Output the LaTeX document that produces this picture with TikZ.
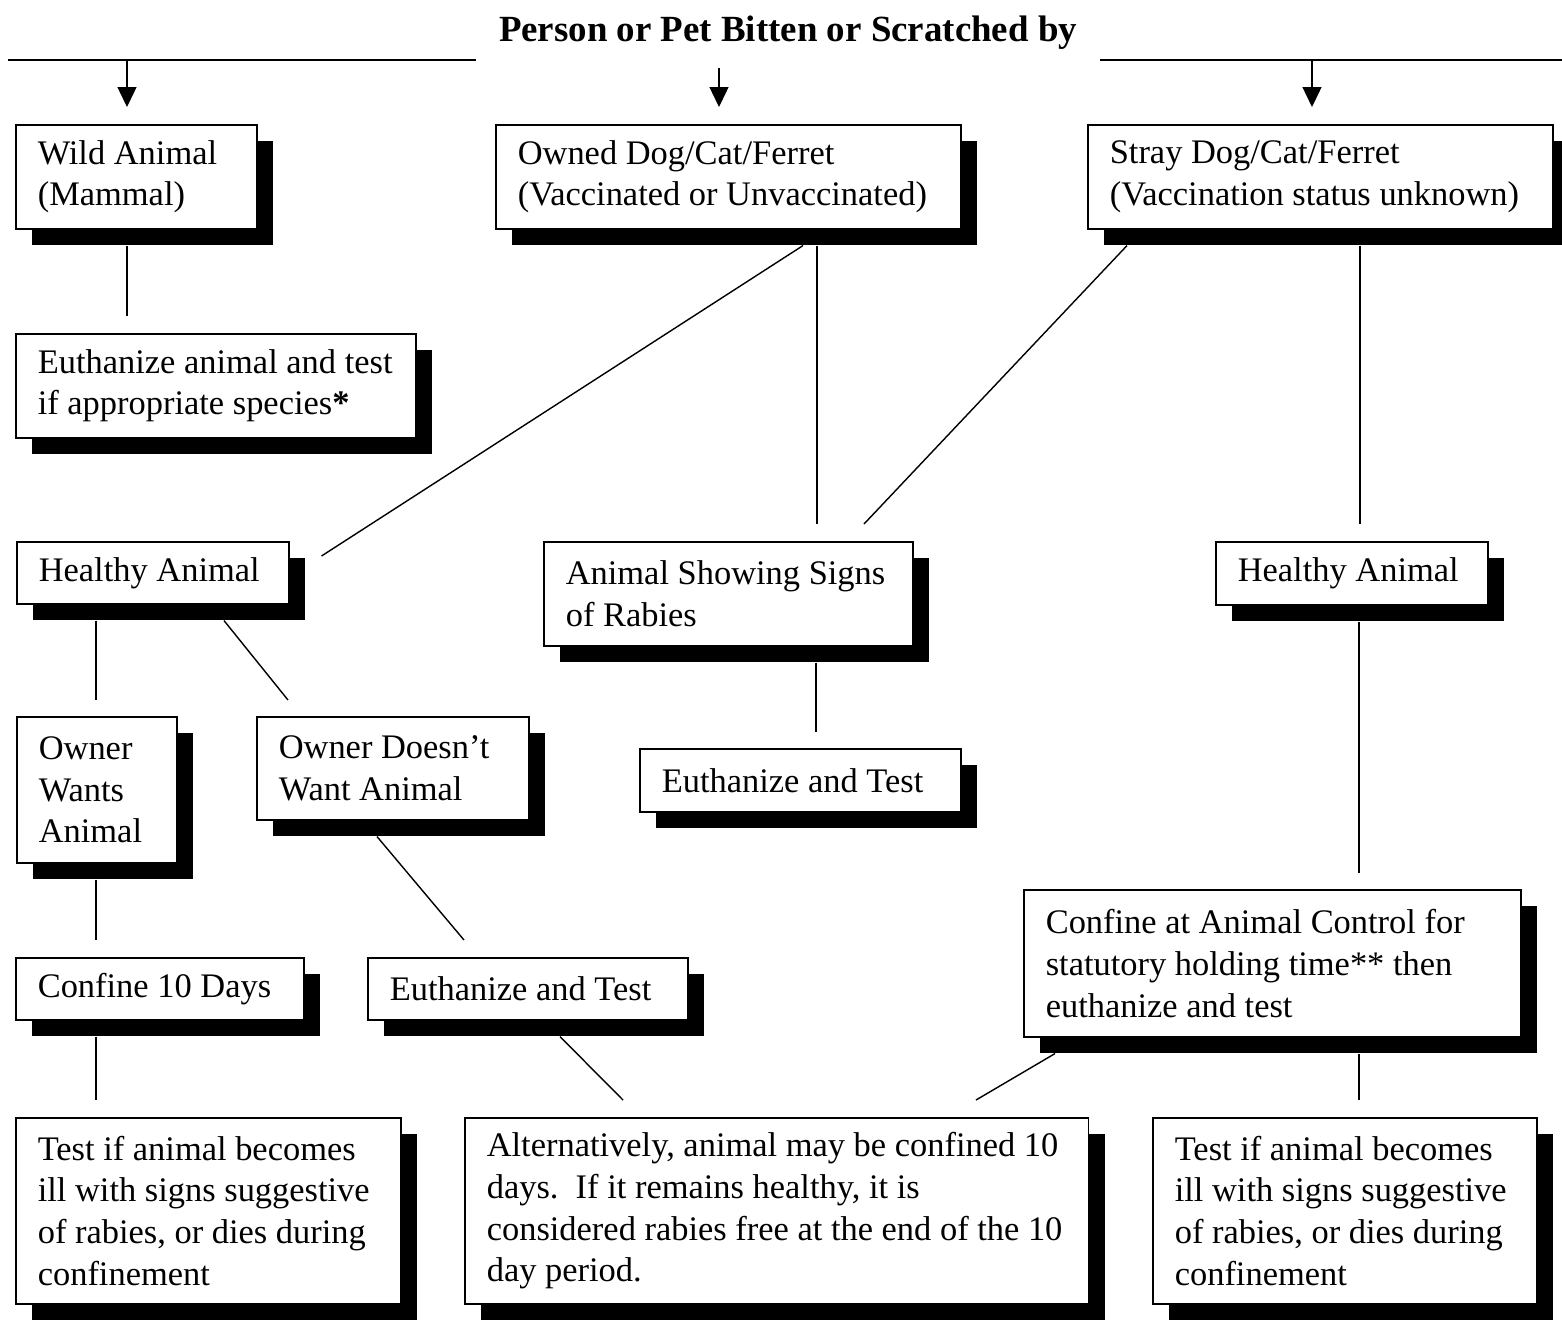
\documentclass[tikz,border=0pt]{standalone}
\usepackage{fontspec}
\setmainfont{Liberation Serif}
\usetikzlibrary{arrows.meta, calc, shadows}

\begin{document}
\begin{tikzpicture}[x=0.02cm, y=-0.02cm,
  flowbox/.style={draw, line width=0.9pt, fill=white, anchor=north west, align=flush left,
    inner xsep=0.44cm, inner ysep=0pt, font=\fontsize{19.6}{23.8}\selectfont,
    drop shadow={shadow xshift=0.32cm, shadow yshift=-0.32cm, fill=black, opacity=1}},
  link/.style={line width=0.8pt},
  arr/.style={line width=0.8pt, -{Triangle[length=0.4cm, width=0.38cm]}}]
  \useasboundingbox (0,0) rectangle (1562,1319);

  % Heading and top bar
  \node[font=\fontsize{21}{25}\selectfont\bfseries, anchor=base] (title) at (788,41) {Person or Pet Bitten or Scratched by};
  \coordinate (barL) at (8,60);
  \coordinate (barLend) at (476,60);
  \coordinate (barR) at (1100,60);
  \coordinate (barRend) at (1562,60);
  \draw[link] (barL) -- (barLend);
  \draw[link] (barR) -- (barRend);

  % First row
  \node[flowbox, text width=3.94cm, minimum height=2.08cm] (wild) at (15,124) {Wild Animal\\(Mammal)};
  \node[flowbox, text width=8.42cm, minimum height=2.08cm] (owned) at (495,124) {Owned Dog/Cat/Ferret\\(Vaccinated or~Unvaccinated)};
  \node[flowbox, text width=8.42cm, minimum height=2.08cm] (stray) at (1087,124) {Stray Dog/Cat/Ferret\\(Vaccination status~unknown)};

  % Wild animal branch
  \node[flowbox, text width=7.12cm, minimum height=2.08cm] (euthA) at (15,333) {Euthanize animal and~test\\if appropriate species\textbf{*}};

  % Second row
  \node[flowbox, text width=4.56cm, minimum height=1.24cm] (healthyL) at (16,541) {Healthy Animal};
  \node[flowbox, text width=6.50cm, minimum height=2.08cm] (signs) at (543,541) {Animal Showing~Signs\\of Rabies};
  \node[flowbox, text width=4.56cm, minimum height=1.26cm] (healthyR) at (1215,541) {Healthy Animal};

  % Third row
  \node[flowbox, text width=2.32cm, minimum height=2.92cm] (ownWants) at (16,716) {Owner\\Wants\\Animal};
  \node[flowbox, text width=4.56cm, minimum height=2.06cm] (ownNot) at (256,716) {Owner Doesn’t\\Want Animal};
  \node[flowbox, text width=5.54cm, minimum height=1.26cm] (euthMid) at (639,748) {Euthanize and Test};

  % Fourth row
  \node[flowbox, text width=4.88cm, minimum height=1.24cm] (conf10) at (15,957) {Confine 10 Days};
  \node[flowbox, text width=5.52cm, minimum height=1.24cm] (euthLow) at (367,957) {Euthanize and Test};
  \node[flowbox, text width=9.06cm, minimum height=2.94cm] (confAC) at (1023,889) {Confine at Animal Control~for\\statutory holding time** then\\euthanize and test};

  % Bottom row
  \node[flowbox, text width=6.82cm, minimum height=3.72cm] (testL) at (15,1117) {Test if animal becomes\\ill with signs~suggestive\\of rabies, or dies~during\\confinement};
  \node[flowbox, text width=11.60cm, minimum height=3.72cm] (alt) at (464,1117) {Alternatively, animal may be confined~10\\days.\ \ If it remains healthy, it is\\considered rabies free at the end of the~10\\day period.};
  \node[flowbox, text width=6.80cm, minimum height=3.72cm] (testR) at (1152,1117) {Test if animal becomes\\ill with signs~suggestive\\of rabies, or dies~during\\confinement};

  % Arrows from the bar
  \draw[arr] ($(barL)+(119,0)$) -- ($(wild.north west)+(112,-17)$);
  \draw[arr] ($(title.base)+(-69,27)$) -- ($(owned.north west)+(224,-17)$);
  \draw[arr] ($(barR)+(212,0)$) -- ($(stray.north west)+(225,-17)$);

  % Connectors
  \draw[link] ($(wild.south west)+(112,16)$) -- ($(euthA.north west)+(112,-17)$);
  \draw[link] ($(owned.south west)+(308,16)$) -- ($(healthyL.north east)+(32,15)$);
  \draw[link] ($(owned.south west)+(322,16)$) -- ($(signs.north west)+(274,-17)$);
  \draw[link] ($(stray.south west)+(40,16)$) -- ($(signs.north west)+(321,-17)$);
  \draw[link] ($(stray.south west)+(273,16)$) -- ($(healthyR.north west)+(145,-17)$);
  \draw[link] ($(healthyL.south west)+(80,16)$) -- ($(ownWants.north west)+(80,-16)$);
  \draw[link] ($(healthyL.south west)+(208,16)$) -- ($(ownNot.north west)+(32,-16)$);
  \draw[link] ($(signs.south west)+(273,16)$) -- ($(euthMid.north west)+(177,-16)$);
  \draw[link] ($(ownWants.south west)+(80,16)$) -- ($(conf10.north west)+(81,-17)$);
  \draw[link] ($(ownNot.south west)+(121,16)$) -- ($(euthLow.north west)+(97,-17)$);
  \draw[link] ($(healthyR.south west)+(144,16)$) -- ($(confAC.north west)+(336,-16)$);
  \draw[link] ($(conf10.south west)+(81,16)$) -- ($(testL.north west)+(81,-17)$);
  \draw[link] ($(euthLow.south west)+(193,16)$) -- ($(alt.north west)+(159,-17)$);
  \draw[link] ($(confAC.south west)+(32,16)$) -- ($(alt.north west)+(512,-17)$);
  \draw[link] ($(confAC.south west)+(336,16)$) -- ($(testR.north west)+(207,-17)$);
\end{tikzpicture}
\end{document}
